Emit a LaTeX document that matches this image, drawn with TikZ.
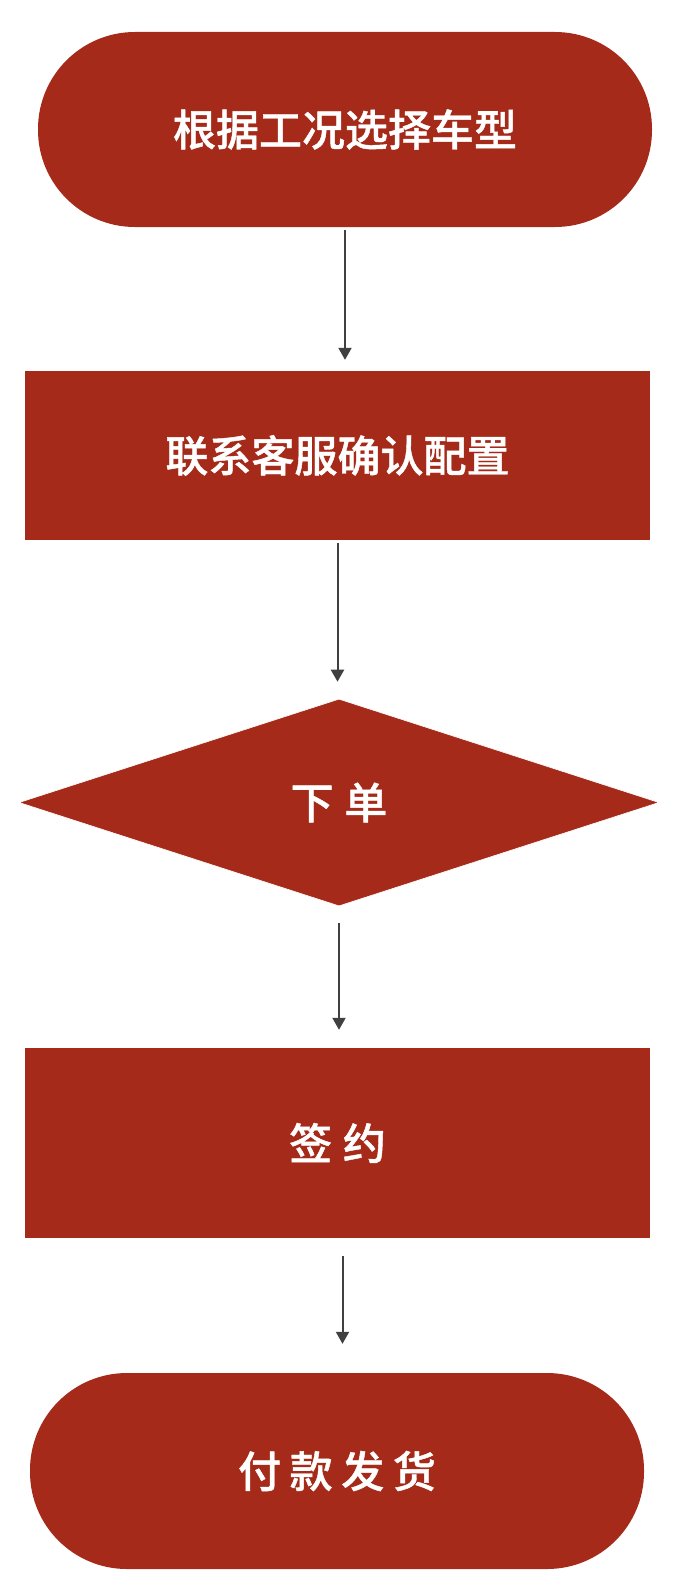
\documentclass[tikz,border=0pt]{standalone}
\usepackage{fontspec}
\newfontfamily\cjk{Noto Sans CJK SC Medium}[FakeBold=1]
\usetikzlibrary{shapes.geometric,arrows.meta}
\definecolor{boxred}{HTML}{A52A19}
\definecolor{arrowgray}{HTML}{404040}
\tikzset{
  lbl/.style={text=white,font=\cjk\fontsize{43pt}{50pt}\selectfont},
  stadium/.style={lbl,fill=boxred,rounded corners=#1,inner sep=0pt},
  boxnode/.style={lbl,fill=boxred,inner sep=0pt},
  decision/.style={lbl,fill=boxred,diamond,draw=white,line width=0.6pt,inner sep=0pt,aspect=3},
  flow/.style={draw=arrowgray,line width=2pt,-{Triangle[width=13pt,length=12pt]}}
}
\begin{document}
\begin{tikzpicture}[x=1pt,y=-1pt]
\useasboundingbox (0,0) rectangle (694,1592);
\node[stadium=97pt,minimum width=614pt,minimum height=195pt] (a) at (345,129.5) {根据工况选择车型};
\node[boxnode,minimum width=625pt,minimum height=169pt] (b) at (337.5,455.5) {联系客服确认配置};
\node[decision,minimum width=640pt,minimum height=207pt] (c) at (339,802.5) {下\hspace{0.25em}单};
\node[boxnode,minimum width=625pt,minimum height=190pt] (d) at (337.5,1143) {签\hspace{0.25em}约};
\node[stadium=97pt,minimum width=614pt,minimum height=196pt] (e) at (337,1471) {付\hspace{0.2em}款\hspace{0.2em}发\hspace{0.2em}货};
\draw[flow,shorten <=3pt,shorten >=11pt] (a.south) -- (a.south |- b.north);
\draw[flow,shorten <=3pt,shorten >=17pt] (b.south) -- (b.south |- c.north);
\draw[flow,shorten <=17pt,shorten >=18pt] (c.south) -- (c.south |- d.north);
\draw[flow,shorten <=18pt,shorten >=29pt] ([xshift=5pt]d.south) -- ([xshift=5pt]d.south |- e.north);
\end{tikzpicture}
\end{document}
